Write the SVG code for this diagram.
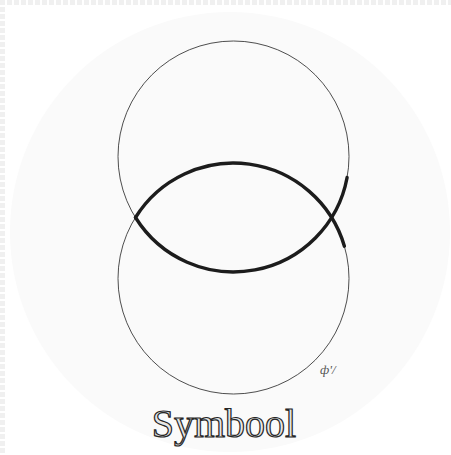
<svg xmlns="http://www.w3.org/2000/svg" width="451" height="455" viewBox="0 0 451 455">
<style>
.thin{fill:none;stroke:#3a3a3a;stroke-width:0.9}
.thick{fill:none;stroke:#1c1c1c;stroke-width:3.4;stroke-linecap:round}
.title{font-family:"Liberation Serif","DejaVu Serif",serif;font-size:40px;fill:#e6e6e6;stroke:#262626;stroke-width:1.2}
.sig{font-family:"Liberation Serif",serif;font-size:13px;fill:#555;font-style:italic}
</style>
<rect width="451" height="455" fill="#ffffff"/>
<circle cx="230" cy="232" r="220" fill="#fafafa"/>
<line x1="0" y1="2.5" x2="451" y2="2.5" stroke="#f0f0f0" stroke-width="5" stroke-dasharray="5 2"/>
<line x1="2.5" y1="0" x2="2.5" y2="455" stroke="#f0f0f0" stroke-width="5" stroke-dasharray="5 2"/>
<g id="circle-top"><circle class="thin" cx="233.5" cy="156.5" r="115.5"/></g>
<g id="circle-bottom"><circle class="thin" cx="233.5" cy="278.5" r="115.5"/></g>
<g id="fish">
<path class="thick" d="M135.5,217.5 A115.5,115.5 0 0 1 344.4,246.2"/>
<path class="thick" d="M135.5,217.5 A115.5,115.5 0 0 0 347.1,177.5"/>
</g>
<g id="label"><text class="title" x="224" y="437" text-anchor="middle">Symbool</text></g>
<g id="signature"><text class="sig" x="320" y="374">ф'/</text></g>
</svg>
